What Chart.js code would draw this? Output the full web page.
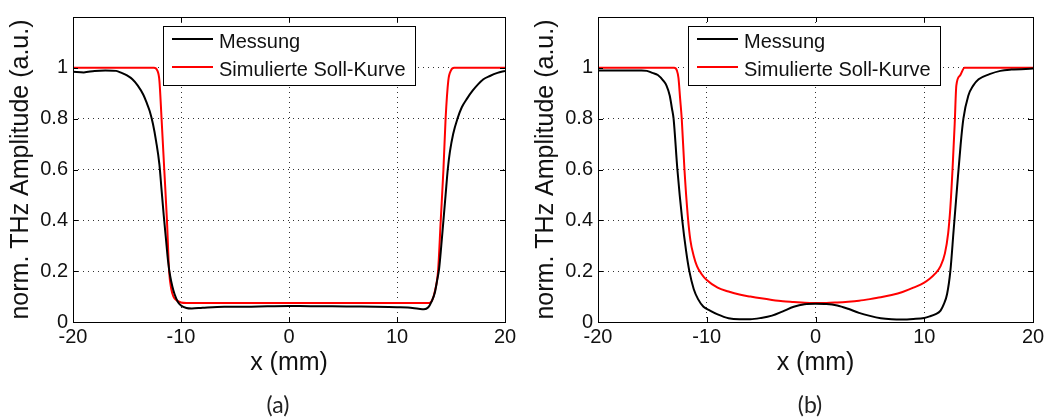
<!DOCTYPE html>
<html>
<head>
<meta charset="utf-8">
<script src="https://cdn.jsdelivr.net/npm/chart.js@4/dist/chart.umd.min.js"></script>
<style>
body { margin: 0; background: #fff; }
#wrap { position: relative; width: 1050px; height: 417px; overflow: hidden; }
.panel { position: absolute; top: 0; width: 525px; height: 417px; }
.cap { position: absolute; top: 390px; width: 60px; line-height: 28px; text-align: center;
       font: 23px Lato, "Open Sans", sans-serif; color: #222; }
</style>
</head>
<body>
<div id="wrap">
  <div class="panel" style="left:0"><canvas id="chartA" width="525" height="417"></canvas></div>
  <div class="panel" style="left:525px"><canvas id="chartB" width="525" height="417"></canvas></div>
  <div class="cap" style="left:248px">(a)</div>
  <div class="cap" style="left:780px">(b)</div>
</div>
<script>
const xTicks = [-20, -10, 0, 10, 20];
const yTicks = [0, 0.2, 0.4, 0.6, 0.8, 1];
const seriesLabels = ['Messung', 'Simulierte Soll-Kurve'];
const xTitle = 'x (mm)';
const yTitle = 'norm. THz Amplitude (a.u.)';

// panel (a) - measured
const messungA_x = [-20, -19, -18, -17, -16, -15.5, -15, -14.5, -14, -13.5, -13.2, -12.9, -12.6, -12.3, -12.0, -11.8, -11.6, -11.4, -11.2, -11.0, -10.8, -10.6, -10.3, -10.0, -9.5, -9, -8, -6, -4, -2, 0, 2, 4, 6, 8, 10, 11, 12, 12.5, 12.9, 13.2, 13.5, 13.7, 13.9, 14.1, 14.3, 14.5, 14.7, 14.9, 15.2, 15.6, 16.0, 16.5, 17, 17.5, 18, 18.6, 19.3, 20];
const messungA_y = [0.985, 0.982, 0.988, 0.99, 0.988, 0.98, 0.97, 0.955, 0.93, 0.895, 0.865, 0.83, 0.78, 0.71, 0.62, 0.52, 0.42, 0.33, 0.24, 0.18, 0.14, 0.11, 0.08, 0.065, 0.055, 0.053, 0.056, 0.06, 0.06, 0.062, 0.063, 0.062, 0.062, 0.061, 0.06, 0.058, 0.057, 0.052, 0.05, 0.058, 0.08, 0.115, 0.16, 0.21, 0.3, 0.4, 0.5, 0.6, 0.67, 0.74, 0.8, 0.845, 0.88, 0.91, 0.935, 0.955, 0.968, 0.98, 0.988];
// panel (a) - simulated
const sollA_x = [-20, -12.5, -12.2, -12.0, -11.8, -11.55, -11.3, -11.1, -10.9, -10.7, -10.4, -10.0, -9.5, 13.0, 13.3, 13.5, 13.8, 14.05, 14.3, 14.5, 14.75, 15.0, 15.3, 20];
const sollA_y = [1, 1, 0.99, 0.95, 0.8, 0.6, 0.4, 0.2, 0.13, 0.1, 0.085, 0.077, 0.075, 0.075, 0.09, 0.12, 0.2, 0.4, 0.6, 0.8, 0.95, 0.99, 1, 1];

// panel (b) - measured
const messungB_x = [-20, -18, -16, -15.5, -15, -14.5, -14, -13.7, -13.4, -13.2, -13.05, -12.7, -12.25, -11.9, -11.6, -11.2, -10.8, -10.3, -9.7, -9, -8, -7, -6, -5, -4, -3, -2, -1, 0, 1, 2, 3, 4, 5, 6, 7, 8, 9, 10, 10.5, 11, 11.5, 11.8, 12.1, 12.4, 12.7, 13.0, 13.35, 13.6, 14.05, 14.5, 15, 16, 17, 18, 20];
const messungB_y = [0.99, 0.99, 0.99, 0.988, 0.98, 0.972, 0.95, 0.93, 0.89, 0.84, 0.8, 0.6, 0.4, 0.28, 0.2, 0.13, 0.09, 0.06, 0.045, 0.03, 0.015, 0.011, 0.011, 0.016, 0.025, 0.042, 0.06, 0.07, 0.072, 0.071, 0.065, 0.052, 0.036, 0.024, 0.015, 0.011, 0.01, 0.012, 0.016, 0.022, 0.03, 0.045, 0.07, 0.11, 0.2, 0.36, 0.52, 0.7, 0.8, 0.89, 0.93, 0.955, 0.975, 0.988, 0.993, 0.997];
// panel (b) - simulated
const sollB_x = [-20, -13, -12.75, -12.6, -12.45, -12.3, -12.05, -11.75, -11.5, -11.2, -10.9, -10.5, -10, -9, -8, -7, -6, -5, -4, -3, -2, -1, 0, 1, 2, 3, 4, 5, 6, 7, 8, 9, 10, 10.5, 11, 11.5, 11.9, 12.2, 12.4, 12.6, 12.8, 12.95, 13.3, 13.7, 20];
const sollB_y = [1, 1, 0.99, 0.96, 0.88, 0.8, 0.6, 0.42, 0.32, 0.26, 0.22, 0.19, 0.165, 0.135, 0.12, 0.108, 0.1, 0.093, 0.087, 0.082, 0.079, 0.076, 0.075, 0.075, 0.077, 0.08, 0.084, 0.09, 0.097, 0.106, 0.118, 0.135, 0.155, 0.17, 0.19, 0.22, 0.27, 0.35, 0.45, 0.6, 0.78, 0.93, 0.97, 1, 1];

Chart.defaults.font.family = '"Liberation Sans", Arial, sans-serif';
Chart.defaults.color = '#111';

function pts(xs, ys) {
  return xs.map((x, i) => ({ x: x, y: ys[i] }));
}

// box around the axes, inward tick marks and the legend
const matlabLook = {
  id: 'matlabLook',
  afterDatasetsDraw(chart) {
    const ctx = chart.ctx;
    const a = chart.chartArea;
    const xs = chart.scales.x, ys = chart.scales.y;
    ctx.save();
    ctx.strokeStyle = '#000';
    ctx.lineWidth = 1;
    ctx.setLineDash([]);
    ctx.beginPath();
    xTicks.forEach(v => {
      const px = Math.round(xs.getPixelForValue(v)) + 0.5;
      ctx.moveTo(px, a.bottom); ctx.lineTo(px, a.bottom - 5);
      ctx.moveTo(px, a.top); ctx.lineTo(px, a.top + 5);
    });
    yTicks.forEach(v => {
      const py = Math.round(ys.getPixelForValue(v)) + 0.5;
      ctx.moveTo(a.left, py); ctx.lineTo(a.left + 5, py);
      ctx.moveTo(a.right, py); ctx.lineTo(a.right - 5, py);
    });
    ctx.stroke();
    ctx.strokeRect(Math.round(a.left) + 0.5, Math.round(a.top) + 0.5,
                   Math.round(a.right - a.left), Math.round(a.bottom - a.top));
    ctx.restore();
  },
  afterDraw(chart) {
    const ctx = chart.ctx;
    const a = chart.chartArea;
    const bx = Math.round(a.left) + 90, by = Math.round(a.top) + 9;
    ctx.save();
    ctx.fillStyle = '#fff';
    ctx.fillRect(bx, by, 252, 59);
    ctx.strokeStyle = '#000';
    ctx.lineWidth = 1;
    ctx.strokeRect(bx + 0.5, by + 0.5, 252, 59);
    ctx.font = '20px "Liberation Sans", Arial, sans-serif';
    ctx.textBaseline = 'alphabetic';
    chart.data.datasets.forEach((ds, i) => {
      const ly = by + 13 + i * 28;
      ctx.strokeStyle = ds.borderColor;
      ctx.lineWidth = 2;
      ctx.beginPath();
      ctx.moveTo(bx + 9, ly); ctx.lineTo(bx + 50, ly);
      ctx.stroke();
      ctx.fillStyle = '#111';
      ctx.fillText(ds.label, bx + 56, by + 22 + i * 28);
    });
    ctx.restore();
  }
};

function makeChart(id, meas, soll, padRight) {
  return new Chart(document.getElementById(id).getContext('2d'), {
    type: 'line',
    data: {
      datasets: [{
        label: seriesLabels[0],
        data: meas,
        borderColor: '#000',
        borderWidth: 2,
        pointRadius: 0,
        cubicInterpolationMode: 'monotone'
      }, {
        label: seriesLabels[1],
        data: soll,
        borderColor: '#ff0000',
        borderWidth: 2,
        pointRadius: 0,
        cubicInterpolationMode: 'monotone'
      }]
    },
    options: {
      responsive: false,
      animation: false,
      layout: { padding: { left: 0, right: padRight, top: 12, bottom: 35 } },
      plugins: { legend: { display: false }, tooltip: { enabled: false } },
      scales: {
        x: {
          type: 'linear',
          min: -20,
          max: 20,
          afterBuildTicks: s => { s.ticks = xTicks.map(v => ({ value: v })); },
          afterFit: s => { s.height = 60; },
          ticks: { font: { size: 20 }, padding: 3, maxRotation: 0, color: '#111',
                   callback: v => String(v) },
          grid: { color: '#333', lineWidth: 1, drawTicks: false },
          border: { display: false, dash: [1, 4] },
          title: { display: true, text: xTitle, font: { size: 25 }, padding: { top: 0, bottom: 4 }, color: '#111' }
        },
        y: {
          min: 0,
          max: 1.2,
          afterBuildTicks: s => { s.ticks = yTicks.map(v => ({ value: v })); },
          afterFit: s => { s.width = 73; },
          ticks: { font: { size: 20 }, padding: 5, color: '#111',
                   callback: v => String(Math.round(v * 10) / 10) },
          grid: { color: '#333', lineWidth: 1, drawTicks: false },
          border: { display: false, dash: [1, 4] },
          title: { display: true, text: yTitle, font: { size: 25 }, padding: { top: 6, bottom: 0 }, color: '#111' }
        }
      }
    },
    plugins: [matlabLook]
  });
}

makeChart('chartA', pts(messungA_x, messungA_y), pts(sollA_x, sollA_y), 20);
makeChart('chartB', pts(messungB_x, messungB_y), pts(sollB_x, sollB_y), 17);
</script>
</body>
</html>
